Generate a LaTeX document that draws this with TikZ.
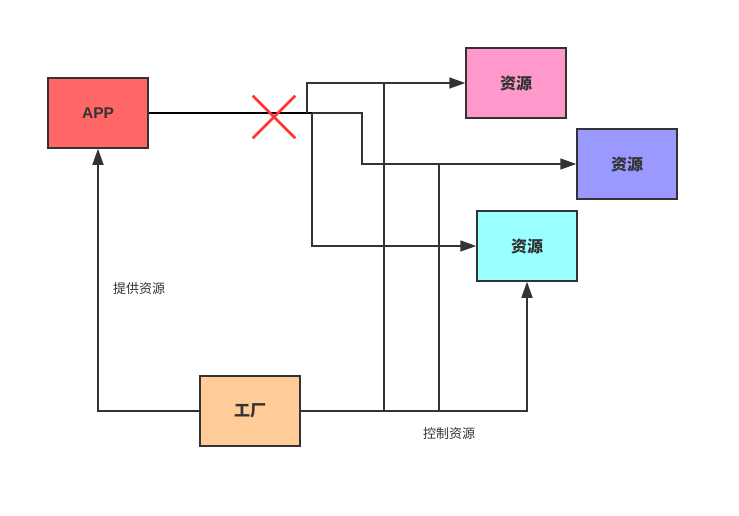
\documentclass[tikz,border=0pt]{standalone}
\usepackage{fontspec}
\newfontfamily\cjk{Noto Sans CJK SC}
\newfontfamily\latinsans{Liberation Sans}
\usetikzlibrary{arrows.meta}
\usetikzlibrary{shapes.misc}
\definecolor{appred}{HTML}{FF6666}
\definecolor{respink}{HTML}{FF99CC}
\definecolor{respurple}{HTML}{9999FF}
\definecolor{rescyan}{HTML}{99FFFF}
\definecolor{factoryorange}{HTML}{FFCC99}
\definecolor{linegray}{HTML}{333333}
\definecolor{crossred}{HTML}{FF3333}
\tikzset{box/.style={draw=linegray, line width=1.5pt, minimum width=100pt, minimum height=70pt, inner sep=0pt, text=linegray, font=\cjk\bfseries\fontsize{16}{16}\selectfont}}
\tikzset{link/.style={draw=linegray, line width=1.6pt}}
\tikzset{arr/.style={link, -{Triangle[length=16pt,width=11pt]}}}
\tikzset{note/.style={text=linegray, font=\cjk\fontsize{13}{13}\selectfont}}

\begin{document}
\begin{tikzpicture}[x=1pt,y=-1pt]
\useasboundingbox (0,0) rectangle (739,515);
\node[box, fill=appred, font=\latinsans\bfseries\fontsize{15.5}{15.5}\selectfont] (app) at (98,113) {APP};
\node[box, fill=respink] (resA) at (516,83) {资源};
\node[box, fill=respurple] (resB) at (627,164) {资源};
\node[box, fill=rescyan] (resC) at (527,246) {资源};
\node[box, fill=factoryorange] (factory) at (250,411) {工厂};
% APP -> resources
\coordinate (split) at (312,113);
\draw[link, draw=black] (app.east) -- (split);
\draw[arr] (split) ++(-5,0) |- (resA.west);
\draw[arr] (split) |- (resC.west);
\draw[arr] (split) -- ++(50,0) |- (resB.west);
\node[cross out, draw=crossred, line width=2.6pt, minimum size=40pt, inner sep=0pt] (block) at (274,117) {};
% factory
\draw[arr] (factory.west) -| (app.south);
\draw[arr] (factory.east) -| (resC.south);
\draw[link] (factory.east) -- ++(83,0) coordinate (jA) -- (jA |- resA.west);
\draw[link] (factory.east) -- ++(138,0) coordinate (jB) -- (jB |- resB.west);
\node[note] (provide) at (139,289) {提供资源};
\node[note] (control) at (449,434) {控制资源};
\end{tikzpicture}
\end{document}
